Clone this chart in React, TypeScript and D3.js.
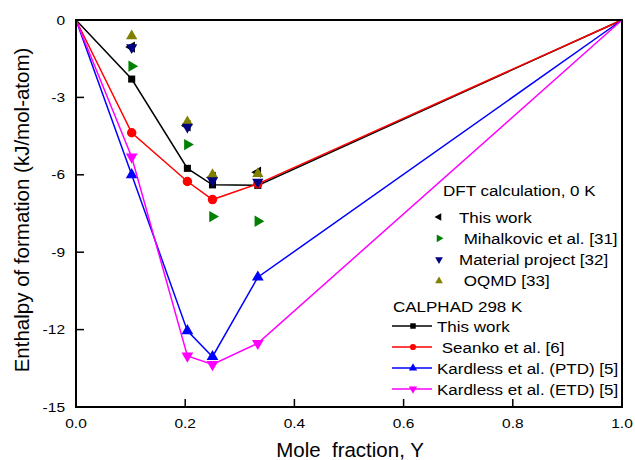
import React from 'react';
import * as d3 from 'd3';

// CALPHAD compositions (mole fraction Y) and curves
const calphadX = [0, 0.102, 0.204, 0.25, 0.333, 1];
const calphadThisWork = [0, -2.29, -5.75, -6.39, -6.41, 0];
const seanko = [0, -4.37, -6.26, -6.96, -6.35, 0];
const kardlessPTD = [0, -6.0, -12.05, -13.05, -9.97, 0];
const kardlessETD = [0, -5.31, -13.02, -13.35, -12.53, 0];

// DFT points, 0 K
const dftX = [0.102, 0.204, 0.25, 0.333];
const dftThisWork = [-1.05, -4.1, -6.1, -5.9];
const mihalkovic = [-1.79, -4.83, -7.62, -7.8];
const materialProject = [-1.07, -4.15, -6.22, -6.28];
const oqmd = [-0.62, -3.95, -6.0, -5.96];

const xTicks = [0, 0.2, 0.4, 0.6, 0.8, 1.0];
const yTicks = [0, -3, -6, -9, -12, -15];

const W = 635;
const H = 460;
const left = 76;
const right = 622;
const top = 20;
const bottom = 407;
const font = 'Liberation Sans, Arial, sans-serif';

const x = d3.scaleLinear().domain([0, 1]).range([left, right]);
const y = d3.scaleLinear().domain([0, -15]).range([top, bottom]);

type Shape = 'square' | 'circle' | 'up' | 'down' | 'left' | 'right';

const symPath = (shape: Shape, size: number) => {
  const t =
    shape === 'square' ? d3.symbolSquare : shape === 'circle' ? d3.symbolCircle : d3.symbolTriangle;
  return d3.symbol().type(t).size(size)() as string;
};
const rot: Record<Shape, number> = { square: 0, circle: 0, up: 0, down: 180, left: -90, right: 90 };

const Marker = ({ cx, cy, shape, color, size }: { cx: number; cy: number; shape: Shape; color: string; size: number }) => (
  <path d={symPath(shape, size)} fill={color} transform={`translate(${cx},${cy}) rotate(${rot[shape]})`} />
);

// text squashed a little vertically, like the original's font
const T = ({ x, y, size, k, anchor = 'start', children }: any) => (
  <text
    transform={`translate(${x},${y}) scale(1,${k})`}
    fontSize={size}
    textAnchor={anchor}
    style={{ whiteSpace: 'pre' }}
  >
    {children}
  </text>
);

const calphadSeries = [
  { name: 'This work', vals: calphadThisWork, color: '#000000', shape: 'square' as Shape, size: 50 },
  { name: ' Seanko et al. [6]', vals: seanko, color: '#ff0000', shape: 'circle' as Shape, size: 70 },
  { name: 'Kardless et al. (PTD) [5]', vals: kardlessPTD, color: '#0000ff', shape: 'up' as Shape, size: 60 },
  { name: 'Kardless et al. (ETD) [5]', vals: kardlessETD, color: '#ff00ff', shape: 'down' as Shape, size: 60 },
];

const dftSeries = [
  { name: 'This work', vals: dftThisWork, color: '#000000', shape: 'left' as Shape },
  { name: ' Mihalkovic et al. [31]', vals: mihalkovic, color: '#008000', shape: 'right' as Shape },
  { name: 'Material project [32]', vals: materialProject, color: '#000080', shape: 'down' as Shape },
  { name: ' OQMD [33]', vals: oqmd, color: '#808000', shape: 'up' as Shape },
];

const line = d3
  .line<number>()
  .x((_, i) => x(calphadX[i]))
  .y((d) => y(d));

export default function App() {
  return (
    <svg width={W} height={H} style={{ position: 'absolute', left: 0, top: 0, background: '#fff' }} fontFamily={font}>
      {/* curves */}
      {calphadSeries.map((s) => (
        <g key={s.name}>
          <path d={line(s.vals) as string} fill="none" stroke={s.color} strokeWidth={1.5} />
          {s.vals.map((v, i) =>
            i === 0 || i === s.vals.length - 1 ? null : (
              <Marker key={i} cx={x(calphadX[i])} cy={y(v)} shape={s.shape} color={s.color} size={s.size} />
            )
          )}
        </g>
      ))}
      {/* DFT points */}
      {[dftSeries[0], dftSeries[1], dftSeries[3], dftSeries[2]].map((s) => (
        <g key={s.name}>
          {s.vals.map((v, i) => (
            <Marker key={i} cx={x(dftX[i])} cy={y(v)} shape={s.shape} color={s.color} size={55} />
          ))}
        </g>
      ))}
      {/* frame */}
      <rect x={left} y={top} width={right - left} height={bottom - top} fill="none" stroke="#000" strokeWidth={2} />
      {xTicks.map((t) => (
        <g key={t}>
          <line x1={x(t)} x2={x(t)} y1={bottom} y2={bottom - 8} stroke="#000" strokeWidth={1.5} />
          <T x={x(t)} y={427.5} size={15.5} k={0.8} anchor="middle">
            {t.toFixed(1)}
          </T>
        </g>
      ))}
      {yTicks.map((t) => (
        <g key={t}>
          <line x1={left} x2={left + 8} y1={y(t)} y2={y(t)} stroke="#000" strokeWidth={1.5} />
          <T x={65} y={y(t) + 4.5} size={15.5} k={0.8} anchor="end">
            {t}
          </T>
        </g>
      ))}
      <T x={350} y={457} size={20.5} k={0.95} anchor="middle">
        {'Mole  fraction, Y'}
      </T>
      <text transform={`translate(29,210) rotate(-90)`} textAnchor="middle" fontSize={20.5}>
        Enthalpy of formation (kJ/mol-atom)
      </text>
      {/* legend: DFT */}
      <T x={443} y={196} size={17} k={0.9}>DFT calculation, 0 K</T>
      {dftSeries.map((s, i) => (
        <g key={s.name} transform={`translate(0,${217 + i * 21.3})`}>
          <Marker cx={439} cy={0} shape={s.shape} color={s.color} size={26} />
          <T x={459} y={5.5} size={17} k={0.9}>
            {s.name}
          </T>
        </g>
      ))}
      {/* legend: CALPHAD */}
      <T x={393} y={312} size={17} k={0.9}>CALPHAD 298 K</T>
      {calphadSeries.map((s, i) => (
        <g key={s.name} transform={`translate(0,${326 + i * 21})`}>
          <line x1={392} x2={432} y1={0} y2={0} stroke={s.color} strokeWidth={1.5} />
          <Marker cx={413} cy={0} shape={s.shape} color={s.color} size={30} />
          <T x={437} y={5.5} size={17} k={0.9}>
            {s.name}
          </T>
        </g>
      ))}
    </svg>
  );
}
